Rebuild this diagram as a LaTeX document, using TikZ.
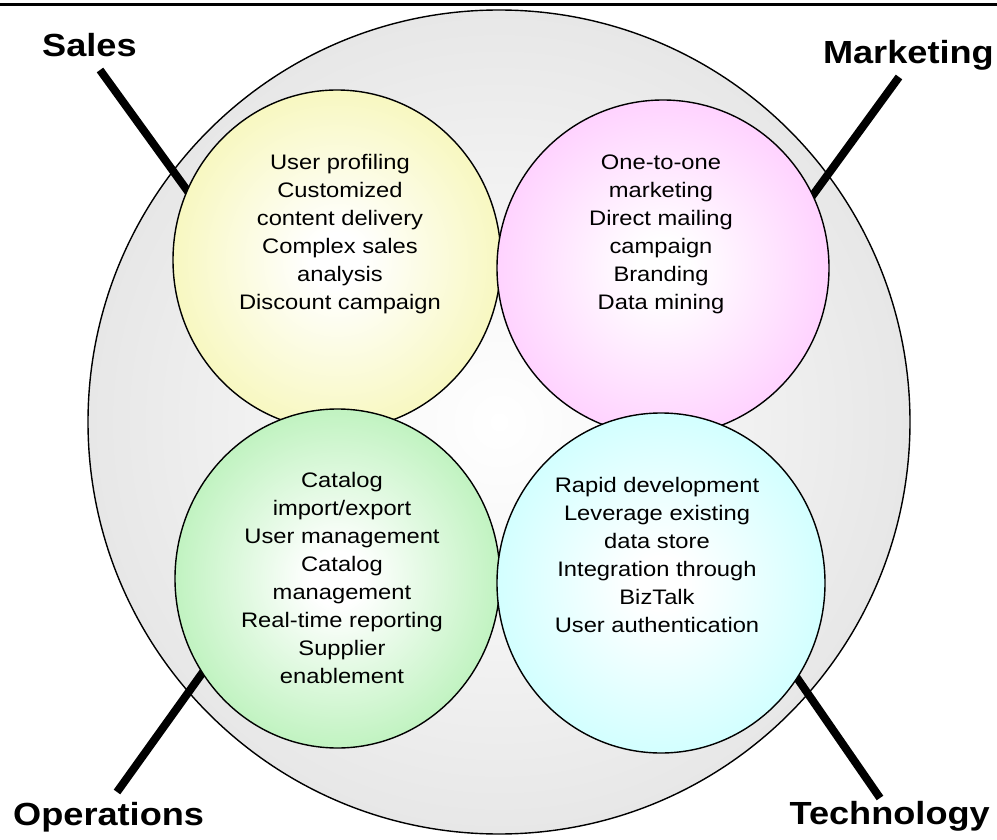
\documentclass[tikz,border=0pt]{standalone}
\usepackage{fontspec}
\setmainfont{Liberation Sans}
\usetikzlibrary{shapes.geometric,calc}
\definecolor{yelE}{HTML}{F6F6B2}
\definecolor{pinkE}{HTML}{FFC8FF}
\definecolor{greenE}{HTML}{B2F0B2}
\definecolor{cyanE}{HTML}{C8FFFF}
\definecolor{grayE}{HTML}{DADADA}
\definecolor{grayM}{HTML}{F4F4F4}
\pgfdeclareradialshading{yelsh}{\pgfpoint{0bp}{0bp}}{color(0bp)=(white); color(4bp)=(white); color(30bp)=(yelE); color(50bp)=(yelE)}
\pgfdeclareradialshading{pinksh}{\pgfpoint{0bp}{0bp}}{color(0bp)=(white); color(4bp)=(white); color(30bp)=(pinkE); color(50bp)=(pinkE)}
\pgfdeclareradialshading{greensh}{\pgfpoint{0bp}{0bp}}{color(0bp)=(white); color(4bp)=(white); color(30bp)=(greenE); color(50bp)=(greenE)}
\pgfdeclareradialshading{cyansh}{\pgfpoint{0bp}{0bp}}{color(0bp)=(white); color(4bp)=(white); color(30bp)=(cyanE); color(50bp)=(cyanE)}
\pgfdeclareradialshading{graysh}{\pgfpoint{0bp}{0bp}}{color(0bp)=(white); color(12bp)=(grayM); color(38bp)=(grayE); color(50bp)=(grayE)}
\pgfdeclarelayer{back}
\pgfdeclarelayer{mid}
\pgfsetlayers{back,mid,main}
\newcommand{\bubtext}[1]{\scalebox{1.13}[1]{\begin{tabular}{@{}c@{}}#1\end{tabular}}}
\newcommand{\lbltext}[1]{\scalebox{1.13}[1]{#1}}
\tikzset{
  bub/.style={ellipse, draw=black, line width=1.4pt, inner sep=0pt, shade},
  lbl/.style={font=\fontsize{32}{38}\selectfont\bfseries, inner sep=0pt},
  txt/.style={font=\fontsize{21}{28}\selectfont, inner sep=0pt, align=center},
  lead/.style={line width=8pt, draw=black}
}
\begin{document}
\begin{tikzpicture}[x=1pt,y=-1pt]
\useasboundingbox (0,0) rectangle (997,840);
\begin{pgfonlayer}{back}
\fill[white] (0,0) rectangle (997,840);
\node[bub, shading=graysh, minimum width=822pt, minimum height=824pt] (B) at (499,422) {};
\end{pgfonlayer}
\draw[line width=3pt] (0,4.5) -- (997,4.5);
\node[bub, shading=yelsh, minimum width=328pt, minimum height=340pt] (Y) at (337,260) {};
\node[bub, shading=pinksh, minimum width=332pt, minimum height=336pt] (P) at (663,268) {};
\node[bub, shading=greensh, minimum width=325pt, minimum height=339pt] (G) at (337.5,578.5) {};
\node[bub, shading=cyansh, minimum width=328pt, minimum height=340pt] (C) at (661,583) {};
\node[txt] (ytx) at (340,234) {\bubtext{User profiling\\Customized\\content delivery\\Complex sales\\analysis\\Discount campaign}};
\node[txt] (ptx) at (661,234) {\bubtext{One-to-one\\marketing\\Direct mailing\\campaign\\Branding\\Data mining}};
\node[txt] (gtx) at (342,580) {\bubtext{Catalog\\import/export\\User management\\Catalog\\management\\Real-time reporting\\Supplier\\enablement}};
\node[txt] (ctx) at (657,557) {\bubtext{Rapid development\\Leverage existing\\data store\\Integration through\\BizTalk\\User authentication}};
\node[lbl, anchor=base west] (sales) at (42,57) {\lbltext{Sales}};
\node[lbl, anchor=base east] (mkt) at (994,64) {\lbltext{Marketing}};
\node[lbl, anchor=base west] (ops) at (13,825) {\lbltext{Operations}};
\node[lbl, anchor=base east] (tech) at (990,824) {\lbltext{Technology}};
\coordinate (st) at (100,70);
\coordinate (mt) at (899,77);
\coordinate (ot) at (117,792);
\coordinate (tt) at (880,798);
\begin{pgfonlayer}{mid}
\draw[lead] (st) -- ($(st)!1.08!(Y.155)$);
\draw[lead] (mt) -- ($(mt)!1.08!(P.26)$);
\draw[lead] (ot) -- ($(ot)!1.08!(G.215)$);
\draw[lead] (tt) -- ($(tt)!1.08!(C.325)$);
\end{pgfonlayer}
\end{tikzpicture}
\end{document}
